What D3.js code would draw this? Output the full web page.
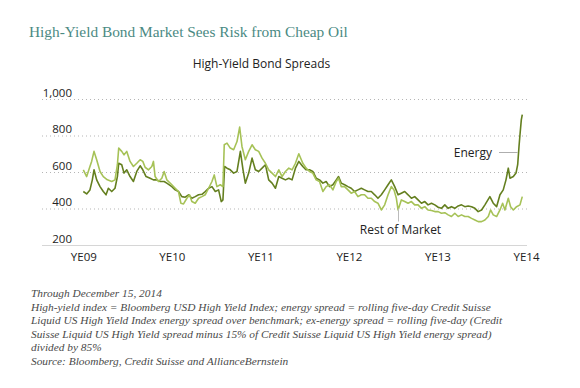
<!DOCTYPE html>
<html>
<head>
<meta charset="utf-8">
<script src="https://cdn.jsdelivr.net/npm/d3@7"></script>
<style>
  body { margin: 0; background: #fff; }
  svg { display: block; }
  .tick text { font-family: "Open Sans", sans-serif; font-size: 11.5px; fill: #222; }
</style>
</head>
<body>
<div id="chart"></div>
<script>
// data (decimal year, spread in bp)
var restYears = [2010.000,2010.038,2010.075,2010.094,2010.121,2010.151,2010.189,2010.226,2010.272,2010.321,2010.358,2010.385,2010.400,2010.434,2010.460,2010.491,2010.528,2010.566,2010.604,2010.642,2010.672,2010.698,2010.736,2010.774,2010.792,2010.811,2010.849,2010.887,2010.913,2010.943,
  2011.000,2011.038,2011.075,2011.102,2011.132,2011.170,2011.200,2011.226,2011.264,2011.302,2011.340,2011.377,2011.415,2011.453,2011.479,2011.509,2011.547,2011.577,2011.592,2011.623,2011.660,2011.698,2011.736,2011.766,2011.792,2011.830,2011.868,2011.906,2011.943,2011.981,
  2012.019,2012.057,2012.094,2012.132,2012.170,2012.208,2012.245,2012.283,2012.321,2012.358,2012.396,2012.434,2012.479,2012.517,2012.555,2012.592,2012.630,2012.668,2012.706,2012.743,2012.781,2012.819,2012.857,2012.883,2012.913,2012.951,2012.989,
  2013.026,2013.064,2013.102,2013.140,2013.177,2013.215,2013.253,2013.291,2013.328,2013.366,2013.404,2013.442,2013.479,2013.509,2013.536,2013.555,2013.592,2013.630,2013.668,2013.706,2013.743,2013.781,2013.819,2013.857,2013.894,2013.932,2013.970,
  2014.008,2014.045,2014.083,2014.121,2014.158,2014.196,2014.234,2014.272,2014.309,2014.347,2014.385,2014.423,2014.460,2014.498,2014.536,2014.574,2014.600,2014.630,2014.668,2014.706,2014.736,2014.762,2014.800,2014.826,2014.857,2014.894,2014.932,2014.958];
var restValues = [612,575,630,658,713,667,603,575,557,548,557,640,731,713,694,713,658,630,648,667,658,626,612,630,658,575,548,566,603,557,
  530,511,493,429,425,456,475,438,429,456,465,475,511,548,584,520,530,520,749,758,731,722,767,846,740,667,713,749,722,713,
  676,648,612,594,575,612,575,603,621,612,648,700,648,621,603,594,557,548,493,520,530,502,548,566,520,520,502,
  484,493,465,475,475,456,456,438,429,392,420,475,520,502,456,392,447,438,429,438,420,420,401,410,392,389,383,
  383,374,377,365,356,374,356,365,356,356,346,337,328,328,337,356,392,365,356,392,429,392,456,410,392,410,420,465];

var energyYears = [2010.000,2010.038,2010.075,2010.102,2010.121,2010.151,2010.189,2010.226,2010.257,2010.283,2010.321,2010.358,2010.385,2010.400,2010.434,2010.460,2010.491,2010.528,2010.566,2010.604,2010.642,2010.672,2010.709,2010.755,2010.792,2010.830,2010.868,2010.913,2010.943,
  2011.000,2011.038,2011.075,2011.113,2011.151,2011.189,2011.226,2011.264,2011.302,2011.340,2011.377,2011.415,2011.453,2011.491,2011.528,2011.558,2011.577,2011.596,2011.623,2011.660,2011.698,2011.736,2011.774,2011.804,2011.830,2011.868,2011.906,2011.943,2011.981,
  2012.019,2012.057,2012.094,2012.132,2012.170,2012.208,2012.245,2012.283,2012.321,2012.358,2012.396,2012.434,2012.479,2012.517,2012.555,2012.592,2012.630,2012.668,2012.706,2012.743,2012.781,2012.819,2012.857,2012.883,2012.913,2012.951,2012.989,
  2013.026,2013.064,2013.102,2013.140,2013.177,2013.215,2013.253,2013.291,2013.328,2013.366,2013.404,2013.442,2013.479,2013.517,2013.555,2013.592,2013.630,2013.668,2013.706,2013.743,2013.781,2013.819,2013.857,2013.894,2013.932,2013.970,
  2014.008,2014.045,2014.083,2014.121,2014.158,2014.196,2014.234,2014.272,2014.309,2014.347,2014.385,2014.423,2014.460,2014.498,2014.536,2014.592,2014.630,2014.668,2014.706,2014.743,2014.774,2014.800,2014.819,2014.857,2014.887,2014.906,2014.921,2014.932,2014.947,2014.958];
var energyValues = [493,480,502,557,612,557,520,493,475,511,493,511,575,648,640,594,612,575,548,603,634,612,575,566,557,557,548,548,539,
  520,502,493,465,462,475,456,465,475,478,493,511,520,493,502,438,447,630,621,612,594,603,713,612,539,594,676,612,603,
  621,640,557,539,511,575,566,557,566,557,621,658,630,612,612,603,566,557,539,548,520,530,557,575,539,530,520,
  511,493,502,511,502,493,493,475,456,475,502,530,557,520,475,484,493,475,456,465,447,429,438,420,429,420,
  407,401,420,401,410,401,414,420,410,414,410,401,383,392,420,465,429,410,475,502,557,621,566,575,594,640,740,804,886,914];

var yTicks = [200, 400, 600, 800, 1000];
var xTicks = [2010, 2011, 2012, 2013, 2014, 2015];
var xTickLabels = ["YE09", "YE10", "YE11", "YE12", "YE13", "YE14"];

var notes = [
  "Through December 15, 2014",
  "High-yield index = Bloomberg USD High Yield Index; energy spread = rolling five-day Credit Suisse",
  "Liquid US High Yield Index energy spread over benchmark; ex-energy spread = rolling five-day (Credit",
  "Suisse Liquid US High Yield spread minus 15% of Credit Suisse Liquid US High Yield energy spread)",
  "divided by 85%",
  "Source: Bloomberg, Credit Suisse and AllianceBernstein"
];

var svgWidth = 580;
var svgHeight = 388;

var svg = d3.select("#chart")
  .append("svg")
  .attr("width", svgWidth)
  .attr("height", svgHeight);

// title, sized to the reference width
var title = svg.append("text")
  .attr("x", 29)
  .attr("y", 37)
  .style("font-family", "'Liberation Serif', serif")
  .style("font-size", "18px")
  .style("fill", "#4b8a83")
  .text("High-Yield Bond Market Sees Risk from Cheap Oil");
var tw = title.node().getComputedTextLength();
title.style("font-size", (18 * 319 / tw) + "px");

svg.append("text")
  .attr("x", 261.5)
  .attr("y", 68)
  .attr("text-anchor", "middle")
  .style("font-family", "'Open Sans', sans-serif")
  .style("font-size", "12px")
  .style("fill", "#222")
  .text("High-Yield Bond Spreads");

var x = d3.scaleLinear().domain([2010, 2015]).range([83.3, 526]);
var y = d3.scaleLinear().domain([200, 1000]).range([245, 99]);

var gridLeft = 42, gridRight = 527;

// grid lines
svg.append("g")
  .selectAll("line")
  .data(yTicks.filter(d => d > 200))
  .enter()
  .append("line")
  .attr("x1", gridLeft)
  .attr("x2", gridRight)
  .attr("y1", d => y(d) + 0.5)
  .attr("y2", d => y(d) + 0.5)
  .attr("stroke", "#b5b5b5")
  .attr("stroke-width", 1)
  .attr("stroke-dasharray", "1,3");

svg.append("line")
  .attr("x1", gridLeft)
  .attr("x2", gridRight)
  .attr("y1", y(200) + 0.5)
  .attr("y2", y(200) + 0.5)
  .attr("stroke", "#d6d6d6")
  .attr("stroke-width", 1);

// y axis labels
var yAxis = d3.axisLeft(y)
  .tickValues(yTicks)
  .tickFormat(d3.format(","))
  .tickSize(0)
  .tickPadding(0);

svg.append("g")
  .attr("transform", "translate(72,0)")
  .call(yAxis)
  .call(g => g.select(".domain").remove())
  .selectAll("text")
  .attr("dy", "-0.25em");

// x axis labels
var xAxis = d3.axisBottom(x)
  .tickValues(xTicks)
  .tickFormat((d, i) => xTickLabels[i])
  .tickSize(0)
  .tickPadding(0);

svg.append("g")
  .attr("transform", "translate(0,253)")
  .call(xAxis)
  .call(g => g.select(".domain").remove());

// lines
var line = d3.line()
  .x(d => x(d[0]))
  .y(d => y(d[1]));

svg.append("path")
  .datum(energyYears.map((t, i) => [t, energyValues[i]]))
  .attr("fill", "none")
  .attr("stroke", "#647f1f")
  .attr("stroke-width", 1.6)
  .attr("stroke-linejoin", "round")
  .attr("d", line);

svg.append("path")
  .datum(restYears.map((t, i) => [t, restValues[i]]))
  .attr("fill", "none")
  .attr("stroke", "#a6c257")
  .attr("stroke-width", 1.6)
  .attr("stroke-linejoin", "round")
  .attr("d", line);

// annotations
svg.append("line")
  .attr("x1", 499).attr("x2", x(2014.905))
  .attr("y1", 152.5).attr("y2", 152.5)
  .attr("stroke", "#999").attr("stroke-width", 0.8);

svg.append("text")
  .attr("x", 492)
  .attr("y", 157)
  .attr("text-anchor", "end")
  .style("font-family", "'Open Sans', sans-serif")
  .style("font-size", "12px")
  .style("fill", "#222")
  .text("Energy");

svg.append("line")
  .attr("x1", 398.5).attr("x2", 398.5)
  .attr("y1", y(400)).attr("y2", 221.5)
  .attr("stroke", "#bbb").attr("stroke-width", 1);

svg.append("text")
  .attr("x", 400.5)
  .attr("y", 234)
  .attr("text-anchor", "middle")
  .style("font-family", "'Open Sans', sans-serif")
  .style("font-size", "12px")
  .style("fill", "#222")
  .text("Rest of Market");

// footnotes
var noteG = svg.append("g")
  .style("font-family", "'Liberation Serif', serif")
  .style("font-style", "italic")
  .style("fill", "#4a4a4a");

var noteText = noteG.selectAll("text")
  .data(notes)
  .enter()
  .append("text")
  .attr("x", 31)
  .attr("y", (d, i) => 297 + i * 13.5)
  .style("font-size", "11px")
  .text(d => d);

var nw = noteText.nodes()[1].getComputedTextLength();
noteText.style("font-size", (11 * 460 / nw) + "px");
</script>
</body>
</html>
